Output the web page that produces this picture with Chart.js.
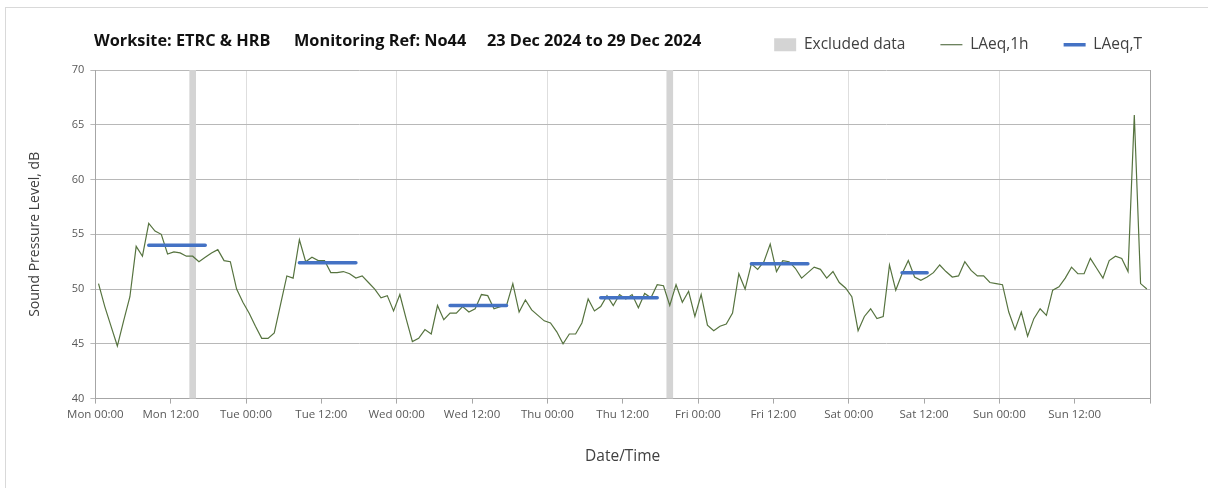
<!DOCTYPE html>
<html>
<head>
<meta charset="utf-8">
<script src="https://cdn.jsdelivr.net/npm/chart.js@4.4.1/dist/chart.umd.min.js"></script>
<style>
  html, body { margin: 0; padding: 0; background: #fff; overflow: hidden; }
  body { width: 1208px; height: 488px; position: relative; }
  #frame { position: absolute; left: 5px; top: 7px; width: 1300px; height: 600px; border: 1px solid #d9d9d9; }
  #wrap { position: absolute; left: 0; top: 0; width: 1208px; height: 488px; }
</style>
</head>
<body>
<div id="frame"></div>
<div id="wrap"><canvas id="chart"></canvas></div>
<script>
// --- DATA ---
const titleParts = ['Worksite: ETRC & HRB', 'Monitoring Ref: No44', '23 Dec 2024 to 29 Dec 2024'];

// x axis: hours from Mon 00:00, ticks every 12 h
const tickLabels = ['Mon 00:00', 'Mon 12:00', 'Tue 00:00', 'Tue 12:00', 'Wed 00:00', 'Wed 12:00',
  'Thu 00:00', 'Thu 12:00', 'Fri 00:00', 'Fri 12:00', 'Sat 00:00', 'Sat 12:00', 'Sun 00:00', 'Sun 12:00', ''];

// LAeq,1h - one value per hour, Mon 00:00 .. Sun 23:00
const laeq1h = [
  50.5, 48.4, 46.6, 44.8, 47.1, 49.3, 53.9, 53.0, 56.0, 55.3, 55.0, 53.2, 53.4, 53.3, 53.0, 53.0, 52.5, 52.9, 53.3, 53.6, 52.6, 52.5, 50.0, 48.8,
  47.8, 46.6, 45.5, 45.5, 46.0, 48.6, 51.2, 51.0, 54.5, 52.5, 52.9, 52.6, 52.6, 51.5, 51.5, 51.6, 51.4, 51.0, 51.2, 50.6, 50.0, 49.2, 49.4, 48.0,
  49.5, 47.3, 45.2, 45.5, 46.3, 45.9, 48.5, 47.2, 47.8, 47.8, 48.4, 47.9, 48.2, 49.5, 49.4, 48.2, 48.4, 48.5, 50.5, 47.9, 49.0, 48.1, 47.6, 47.1,
  46.9, 46.1, 45.0, 45.9, 45.9, 46.9, 49.1, 48.0, 48.4, 49.4, 48.5, 49.5, 49.1, 49.5, 48.3, 49.6, 49.2, 50.4, 50.3, 48.5, 50.4, 48.8, 49.8, 47.5,
  49.5, 46.7, 46.2, 46.6, 46.8, 47.8, 51.4, 50.0, 52.3, 51.8, 52.5, 54.1, 51.6, 52.6, 52.5, 51.9, 51.0, 51.5, 52.0, 51.8, 51.0, 51.6, 50.6, 50.1,
  49.3, 46.2, 47.5, 48.2, 47.3, 47.5, 52.2, 49.9, 51.4, 52.6, 51.1, 50.8, 51.1, 51.5, 52.2, 51.6, 51.1, 51.2, 52.5, 51.7, 51.2, 51.2, 50.6, 50.5,
  50.4, 47.9, 46.3, 47.9, 45.7, 47.3, 48.2, 47.6, 49.9, 50.2, 51.0, 52.0, 51.4, 51.4, 52.8, 51.9, 51.0, 52.6, 53.0, 52.8, 51.6, 65.9, 50.5, 50.0
];

// LAeq,T - daytime periods (hours from Mon 00:00, plotted at mid-hour like the hourly series)
const periodStart = [8.5, 32.5, 56.5, 80.5, 104.5, 128.5];
const periodEnd   = [17.5, 41.5, 65.5, 89.5, 113.5, 132.5];
const laeqT       = [54.0, 52.4, 48.5, 49.2, 52.3, 51.5];

// Excluded hours (start hour of each excluded 1 h block)
const excludedHours = [15, 91];

const yMin = 40, yMax = 70;

// --- build datasets ---
const hourlyPoints = laeq1h.map((v, i) => ({ x: i + 0.5, y: v }));

const periodPoints = [];
laeqT.forEach((v, i) => {
  periodPoints.push({ x: periodStart[i], y: v });
  periodPoints.push({ x: periodEnd[i], y: v });
  periodPoints.push({ x: periodEnd[i] + 0.5, y: null });
});

const excludedBars = excludedHours.map(h => ({ x: h + 0.5, y: [yMin, yMax] }));

const FONT = "'Open Sans'";

// title drawn left of the legend row
const titlePlugin = {
  id: 'titleText',
  afterDraw(chart) {
    const ctx = chart.ctx;
    const xs = [94, 294, 487];
    ctx.save();
    ctx.font = "bold 16.3px " + FONT;
    ctx.fillStyle = '#111';
    ctx.textBaseline = 'middle';
    titleParts.forEach((t, i) => ctx.fillText(t, xs[i], 41));
    ctx.restore();
  }
};

const ctx = document.getElementById('chart').getContext('2d');
new Chart(ctx, {
  type: 'line',
  data: {
    datasets: [
      {
        label: 'LAeq,T',
        data: periodPoints,
        borderColor: '#4472c4',
        borderWidth: 3.5,
        pointRadius: 0,
        spanGaps: false,
        borderCapStyle: 'round'
      },
      {
        label: 'LAeq,1h',
        data: hourlyPoints,
        borderColor: '#56733f',
        borderWidth: 1.2,
        pointRadius: 0,
        tension: 0
      },
      {
        type: 'bar',
        label: 'Excluded data',
        data: excludedBars,
        backgroundColor: '#d4d4d4',
        borderWidth: 0,
        barThickness: 6
      }
    ]
  },
  options: {
    responsive: true,
    maintainAspectRatio: false,
    animation: false,
    layout: { padding: { left: 27, right: 31, top: 2, bottom: 22 } },
    plugins: {
      tooltip: { enabled: false },
      // empty spacer between legend row and plot area
      title: { display: true, text: '', weight: 100, padding: { top: 6.5, bottom: 0 }, font: { size: 1, lineHeight: 1 } },
      legend: {
        position: 'top',
        align: 'end',
        onClick: null,
        labels: {
          font: { family: FONT, size: 15.5 },
          color: '#404040',
          usePointStyle: true,
          pointStyleWidth: 22,
          boxHeight: 13,
          padding: 35,
          generateLabels: () => [
            { text: 'Excluded data', pointStyle: 'rect', fillStyle: '#d4d4d4', strokeStyle: '#d4d4d4', lineWidth: 0, fontColor: '#404040' },
            { text: 'LAeq,1h', pointStyle: 'line', fillStyle: '#3d5a2a', strokeStyle: '#3d5a2a', lineWidth: 1.2, fontColor: '#404040' },
            { text: 'LAeq,T', pointStyle: 'line', fillStyle: '#4472c4', strokeStyle: '#4472c4', lineWidth: 3.5, fontColor: '#404040' }
          ]
        }
      }
    },
    scales: {
      x: {
        type: 'linear',
        min: 0,
        max: 168,
        offset: false,
        border: { color: '#a6a6a6' },
        grid: {
          offset: false,
          color: c => c.tick && c.tick.value === 168 ? '#a6a6a6' : (c.tick && c.tick.value % 24 === 0 ? '#dedede' : 'rgba(0,0,0,0)'),
          tickColor: '#a6a6a6',
          tickLength: 5
        },
        ticks: {
          stepSize: 12,
          autoSkip: false,
          maxRotation: 0,
          padding: 4,
          color: '#595959',
          font: { family: FONT, size: 11.5 },
          callback: v => tickLabels[v / 12]
        },
        title: {
          display: true,
          text: 'Date/Time',
          color: '#404040',
          font: { family: FONT, size: 15.5 },
          padding: { top: 22, bottom: 0 }
        }
      },
      y: {
        min: yMin,
        max: yMax,
        border: { color: '#a6a6a6' },
        grid: { color: '#b8b8b8', tickColor: '#b8b8b8', tickLength: 5 },
        ticks: {
          stepSize: 5,
          padding: 6,
          color: '#595959',
          font: { family: FONT, size: 11 }
        },
        title: {
          display: true,
          text: 'Sound Pressure Level, dB',
          color: '#404040',
          font: { family: FONT, size: 14 },
          padding: { top: 0, bottom: 22 }
        }
      },
      // empty right-hand box keeping the plot clear of the legend's right end
      yRight: {
        position: 'right',
        display: true,
        grid: { display: false },
        border: { display: false },
        ticks: { display: false },
        afterFit: s => { s.width = 27; }
      }
    }
  },
  plugins: [titlePlugin]
});
</script>
</body>
</html>
